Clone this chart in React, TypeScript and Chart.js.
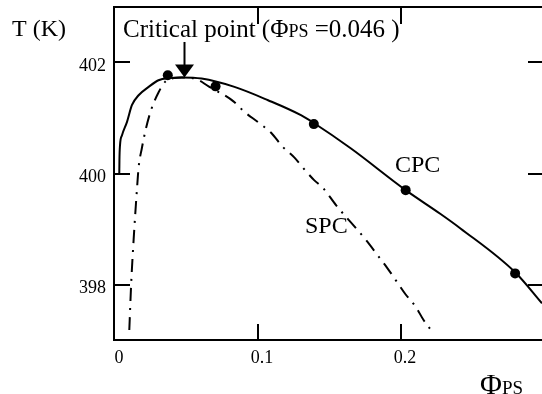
import React, { useEffect, useRef } from "react";
import { Chart, registerables } from "chart.js";

Chart.register(...registerables);

// ---- data ----
const cpcPhi = [0.003, 0.0031, 0.0035, 0.0049, 0.0084, 0.0118, 0.0165, 0.0235, 0.0304, 0.0383, 0.0466, 0.0605, 0.0835, 0.107, 0.13, 0.139, 0.165, 0.2032, 0.2276, 0.2415, 0.2797, 0.2985];
const cpcT = [400.01, 400.24, 400.51, 400.69, 400.93, 401.23, 401.41, 401.56, 401.68, 401.72, 401.73, 401.71, 401.56, 401.32, 401.05, 400.91, 400.45, 399.7, 399.27, 399.01, 398.22, 397.66];

const spcPhi = [0.01, 0.0113, 0.013, 0.0153, 0.0165, 0.0188, 0.0218, 0.0257, 0.0304, 0.035, 0.0411, 0.0466, 0.057, 0.0654, 0.0828, 0.0905, 0.1002, 0.1093, 0.1169, 0.1253, 0.1322, 0.1392, 0.1454, 0.1545, 0.1696, 0.1768, 0.1835, 0.19, 0.1962, 0.2032, 0.2102, 0.2157, 0.2227];
const spcT = [397.18, 398.01, 398.8, 399.7, 400.11, 400.46, 400.83, 401.18, 401.46, 401.65, 401.72, 401.73, 401.7, 401.57, 401.3, 401.11, 400.92, 400.73, 400.49, 400.29, 400.08, 399.88, 399.74, 399.43, 398.98, 398.76, 398.53, 398.31, 398.08, 397.82, 397.6, 397.36, 397.12];

const dotPhi = [0.0369, 0.0703, 0.139, 0.2032, 0.2797];
const dotT = [401.77, 401.57, 400.89, 399.7, 398.2];

const xTicks = [0, 0.1, 0.2];
const yTicks = [398, 400, 402];
const xInnerTicks = [0.1, 0.2];

const X_MIN = -0.0007;
const X_MAX = 0.2985;
const Y_MIN = 397;
const Y_MAX = 403;

const arrowPhi = 0.048;
const arrowTipT = 401.73;
const arrowTopT = 402.37;

const FONT = "'Liberation Serif', 'Times New Roman', Times, serif";

const decor = {
  id: "decor",
  afterDraw(chart: any) {
    const { ctx, chartArea: a, scales } = chart;
    const x = scales.x;
    const y = scales.y;
    ctx.save();
    ctx.strokeStyle = "#000";
    ctx.fillStyle = "#000";
    ctx.lineWidth = 2;
    // top frame line
    ctx.beginPath();
    ctx.moveTo(a.left - 1, a.top);
    ctx.lineTo(a.right, a.top);
    ctx.stroke();
    // inward ticks
    ctx.beginPath();
    yTicks.forEach((v) => {
      const p = Math.round(y.getPixelForValue(v));
      ctx.moveTo(a.left, p);
      ctx.lineTo(a.left + 16, p);
      ctx.moveTo(a.right - 14, p);
      ctx.lineTo(a.right, p);
    });
    xInnerTicks.forEach((v) => {
      const p = Math.round(x.getPixelForValue(v));
      ctx.moveTo(p, a.bottom);
      ctx.lineTo(p, a.bottom - 16);
      ctx.moveTo(p, a.top);
      ctx.lineTo(p, a.top + 17);
    });
    ctx.stroke();

    // arrow
    const ax = Math.round(x.getPixelForValue(arrowPhi)) + 0.5;
    const tip = y.getPixelForValue(arrowTipT);
    const top = y.getPixelForValue(arrowTopT);
    ctx.lineWidth = 2;
    ctx.beginPath();
    ctx.moveTo(ax, top);
    ctx.lineTo(ax, tip - 10);
    ctx.stroke();
    ctx.beginPath();
    ctx.moveTo(ax - 9.5, tip - 13);
    ctx.lineTo(ax + 9.5, tip - 13);
    ctx.lineTo(ax, tip);
    ctx.closePath();
    ctx.fill();

    // texts
    ctx.textAlign = "left";
    ctx.textBaseline = "alphabetic";
    ctx.font = `24px ${FONT}`;
    ctx.fillText("T (K)", 12, 36);

    let cx = 123;
    const by = 37;
    const parts: [string, number][] = [
      ["Critical point (", 25],
      ["\u03A6", 25],
      ["PS", 18],
      [" =0.046 )", 25],
    ];
    parts.forEach(([t, s]) => {
      ctx.font = `${s}px ${FONT}`;
      ctx.fillText(t, cx, by);
      cx += ctx.measureText(t).width;
    });

    ctx.font = `24px ${FONT}`;
    ctx.fillText("CPC", 395, 172);
    ctx.fillText("SPC", 305, 233);

    // x axis title
    let tx = 480;
    ctx.font = `30px ${FONT}`;
    ctx.fillText("\u03A6", tx, 394);
    tx += ctx.measureText("\u03A6").width;
    ctx.font = `19px ${FONT}`;
    ctx.fillText("PS", tx, 394);
    ctx.restore();
  },
};

const zeroPad = (s: any) => {
  s.paddingTop = 0;
  s.paddingBottom = 0;
  s.paddingLeft = 0;
  s.paddingRight = 0;
};

export default function App() {
  const ref = useRef<HTMLCanvasElement | null>(null);
  useEffect(() => {
    if (!ref.current) return;
    const chart = new Chart(ref.current, {
      type: "scatter",
      data: {
        datasets: [
          {
            label: "CPC",
            data: cpcPhi.map((v, i) => ({ x: v, y: cpcT[i] })),
            showLine: true,
            borderColor: "#000",
            borderWidth: 2,
            pointRadius: 0,
            cubicInterpolationMode: "monotone",
          },
          {
            label: "SPC",
            data: spcPhi.map((v, i) => ({ x: v, y: spcT[i] })),
            showLine: true,
            borderColor: "#000",
            borderWidth: 2,
            borderDash: [13, 7, 2, 7],
            pointRadius: 0,
            cubicInterpolationMode: "monotone",
          },
          {
            label: "points",
            data: dotPhi.map((v, i) => ({ x: v, y: dotT[i] })),
            showLine: false,
            pointRadius: 5,
            pointBackgroundColor: "#000",
            pointBorderColor: "#000",
            pointBorderWidth: 0,
          },
        ],
      },
      options: {
        responsive: false,
        devicePixelRatio: 1,
        animation: false,
        layout: { padding: { top: 7, left: 0, right: 0, bottom: 0 } },
        plugins: { legend: { display: false }, tooltip: { enabled: false } },
        scales: {
          x: {
            type: "linear",
            min: X_MIN,
            max: X_MAX,
            afterBuildTicks: (s: any) => {
              s.ticks = xTicks.map((v) => ({ value: v }));
            },
            afterFit: (s: any) => {
              s.height = 54;
              zeroPad(s);
            },
            grid: { display: false, drawTicks: false },
            border: { display: true, color: "#000", width: 2 },
            ticks: {
              color: "#000",
              font: { family: FONT, size: 18 },
              padding: 7,
              labelOffset: 4,
              maxRotation: 0,
              autoSkip: false,
              callback: (v: any) => String(v),
            },
          },
          y: {
            type: "linear",
            min: Y_MIN,
            max: Y_MAX,
            afterBuildTicks: (s: any) => {
              s.ticks = yTicks.map((v) => ({ value: v }));
            },
            afterFit: (s: any) => {
              s.width = 114;
              zeroPad(s);
            },
            grid: { display: false, drawTicks: false },
            border: { display: true, color: "#000", width: 2 },
            ticks: {
              color: "#000",
              font: { family: FONT, size: 18 },
              padding: 8,
              labelOffset: 4,
              autoSkip: false,
              callback: (v: any) => String(v),
            },
          },
        },
      },
      plugins: [decor],
    } as any);
    return () => chart.destroy();
  }, []);
  return (
    <div style={{ position: "fixed", left: 0, top: 0, width: 542, height: 394, overflow: "hidden", background: "#fff" }}>
      <canvas ref={ref} width={547} height={394} style={{ display: "block", width: 547, height: 394 }} />
    </div>
  );
}
